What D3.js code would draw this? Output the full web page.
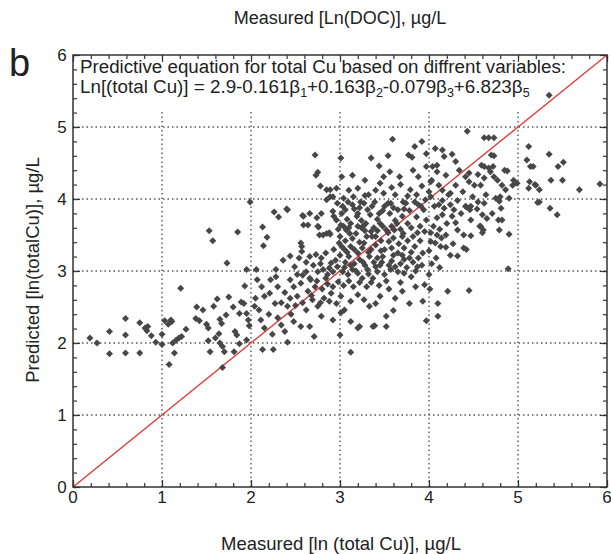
<!DOCTYPE html>
<html><head><meta charset="utf-8">
<script src="https://cdn.jsdelivr.net/npm/d3@7"></script>
<style>
html,body{margin:0;padding:0;background:#fff;}
text{font-family:"Liberation Sans",Arial,sans-serif;fill:#222;}
</style></head>
<body><svg id="c" width="611" height="554"></svg>
<script>
const majorTicks = [0,1,2,3,4,5,6];
const gridTicks = [1,2,3,4,5];
const topTitle = "Measured [Ln(DOC)], µg/L";
const xTitle = "Measured [ln (total Cu)], µg/L";
const yTitle = "Predicted [ln(totalCu)], µg/L";
const panelLabel = "b";
const noteLine1 = "Predictive equation for total Cu based on diffrent variables:";
const noteLine2 = [["Ln[(total Cu)] = 2.9-0.161β",""],["1","sub"],["+0.163β",""],["2","sub"],["-0.079β",""],["3","sub"],["+6.823β",""],["5","sub"]];
const identity = [[0,0],[6,6]];
// [measured, predicted]
const points = [
[0.19,2.07],[0.27,2.00],[0.41,2.16],[0.41,1.85],[0.59,2.34],[0.59,2.11],[0.59,1.86],[0.75,2.28],[0.75,1.86],[0.81,2.21],[0.83,2.17],[0.84,2.23],[0.88,2.10],[0.93,2.01],[1.00,2.12],[1.00,1.98],[1.03,2.31],[1.07,2.26],[1.10,2.32],[1.08,1.70],[1.12,2.00],[1.14,1.86],[1.16,2.04],[1.19,2.07],[1.22,2.09],[1.21,2.76],[1.27,2.19],[1.39,2.50],[1.46,2.46],[1.38,2.34],[1.42,2.31],[1.50,2.26],[1.52,2.21],[1.53,3.56],[1.57,3.42],[1.54,1.88],[1.52,2.03],[1.58,2.51],[1.62,2.61],[1.60,2.07],[1.64,2.13],[1.65,2.33],[1.67,2.27],[1.65,2.00],[1.68,1.95],[1.68,1.66],[1.70,1.88],[1.72,2.39],[1.73,3.11],[1.75,2.64],[1.80,2.50],[1.81,1.88],[1.82,2.16],[1.84,2.11],[1.85,3.54],[1.87,2.41],[1.87,1.99],[1.89,2.57],[1.92,2.55],[1.93,2.79],[1.95,3.02],[1.95,2.41],[1.97,2.32],[1.98,2.24],[1.95,2.04],[1.99,3.96],[1.11,2.30],
[2.72,4.61],[2.73,4.33],[2.75,4.37],[2.78,4.18],[2.26,3.82],[2.31,3.75],[2.41,3.85],[2.13,3.61],[2.18,3.47],[2.14,3.35],[2.59,3.76],[2.64,3.64],[2.59,3.64],[2.74,3.74],[2.76,3.61],[2.77,3.50],[2.36,3.15],[2.44,3.21],[2.57,3.34],[2.57,3.27],[2.89,4.13],[2.92,4.03],[2.96,4.15],[2.85,3.99],[2.81,3.50],[2.85,3.52],[2.89,3.51],
[2.40,3.86],[2.58,3.77],[2.79,3.80],[2.92,3.83],[2.75,3.62],[2.88,3.53],
[2.97,3.94],[3.03,3.90],[3.09,3.96],[3.14,3.92],[3.20,3.80],[3.27,3.94],[3.31,3.85],[3.39,3.96],[3.44,3.80],[3.50,3.90],[3.57,3.94],[3.65,3.85],[3.74,3.94],[3.84,3.96],[3.91,3.90],[3.97,3.71],
[2.96,3.71],[3.01,3.64],[3.07,3.57],[3.12,3.66],[3.18,3.52],[3.24,3.60],[3.29,3.66],[3.35,3.55],[3.40,3.48],[3.48,3.62],[3.54,3.53],[3.61,3.57],[3.70,3.48],[3.80,3.60],[3.87,3.53],[3.95,3.55],
[2.56,3.39],[2.66,3.20],[2.73,3.23],[2.79,3.18],[2.84,3.25],[2.90,3.11],
[2.99,3.39],[3.05,3.30],[3.12,3.34],[3.20,3.25],[3.27,3.39],[3.35,3.30],[3.42,3.18],[3.50,3.30],[3.55,3.41],[3.65,3.25],[3.72,3.16],[3.84,3.34],[3.93,3.25],
[2.06,3.02],[2.07,2.88],[2.22,2.88],[2.28,2.92],
[2.49,3.06],[2.52,2.95],[2.56,2.83],[2.62,2.99],[2.67,2.88],[2.75,2.99],[2.81,3.02],[2.86,2.95],[2.92,2.99],[2.97,3.06],[3.03,2.99],[3.09,2.95],[3.14,3.02],[3.20,2.97],[3.25,2.90],[3.31,3.02],[3.37,2.90],[3.42,2.99],[3.50,2.95],[3.57,3.02],[3.65,2.99],[3.72,2.97],[3.80,2.92],[3.87,3.06],[3.95,2.81],
[2.15,2.65],[2.21,2.69],[2.04,2.51],[2.09,2.46],[2.34,2.56],[2.41,2.51],
[2.52,2.65],[2.58,2.56],[2.62,2.46],[2.69,2.60],[2.75,2.51],[2.82,2.62],[2.90,2.69],[2.96,2.55],[3.01,2.65],[3.05,2.46],[3.12,2.58],[3.20,2.67],[3.27,2.60],[3.33,2.51],[3.40,2.55],[3.93,2.58],
[2.11,2.32],[2.15,2.21],[2.34,2.25],[2.56,2.23],[2.66,2.23],[2.79,2.37],[2.92,2.32],[3.01,2.42],[3.12,2.30],[3.20,2.21],[3.39,2.24],[3.52,2.37],[3.52,2.23],[3.97,2.31],[3.37,2.23],[3.22,2.23],
[2.71,2.09],[3.00,2.11],[2.13,1.91],[2.25,1.91],[2.41,2.01],[3.12,1.87],
[5.22,3.95],[5.36,3.87],[5.44,3.78],
[4.06,3.90],[4.11,3.92],[4.17,3.87],[4.24,3.92],[4.28,3.85],[4.41,3.90],[4.47,3.90],[4.62,3.94],[4.79,3.97],[4.81,3.87],
[4.09,3.74],[4.15,3.78],[4.26,3.76],[4.30,3.67],[4.47,3.71],[4.60,3.78],[4.71,3.80],[4.82,3.71],
[4.02,3.53],[4.09,3.50],[4.19,3.50],[4.32,3.57],[4.39,3.50],[4.47,3.49],[4.58,3.62],[4.60,3.53],[4.79,3.57],[4.90,3.51],
[4.02,3.41],[4.07,3.39],[4.13,3.34],[4.19,3.33],[4.27,3.38],[4.39,3.32],[4.42,3.30],[4.32,3.21],
[4.89,3.03],[4.01,2.75],[4.21,2.72],[4.45,2.73],[4.10,2.55],[4.10,2.37],
[5.35,5.44],[4.43,4.94],[4.62,4.85],[4.67,4.85],[4.73,4.85],[4.07,4.70],[4.15,4.68],[4.17,4.59],[4.26,4.62],[4.73,4.60],[5.12,4.73],[5.35,4.62],
[4.04,4.45],[4.09,4.38],[4.19,4.33],[4.34,4.40],[4.45,4.36],[4.62,4.45],[4.67,4.43],[4.69,4.38],[4.88,4.39],[5.10,4.54],[5.14,4.45],[5.45,4.45],[5.51,4.51],
[4.02,4.24],[4.11,4.19],[4.24,4.08],[4.30,4.19],[4.41,4.31],[4.45,4.24],[4.51,4.19],[4.58,4.19],[4.62,4.29],[4.73,4.31],[4.77,4.26],[4.82,4.19],[4.86,4.13],[4.94,4.19],
[5.12,4.15],[5.20,4.19],[5.24,4.13],[5.37,4.26],[5.50,4.26],[5.69,4.13],[5.92,4.21],
[4.02,4.03],[4.22,4.06],[4.49,4.03],[4.64,4.06],[4.75,4.01],[4.90,4.01],[5.24,3.96],
[3.59,4.83],[3.92,4.80],[3.84,4.73],[3.01,4.57],[3.35,4.57],[3.54,4.60],[3.77,4.61],[3.81,4.58],[3.97,4.63],
[2.85,4.13],[3.02,4.31],[3.14,4.33],[3.28,4.26],[3.44,4.46],[3.49,4.31],[3.56,4.38],[3.67,4.31],[3.82,4.40],[3.88,4.31],[3.97,4.45],[4.03,4.26],[4.09,4.47],
[2.89,4.03],[3.04,4.01],[3.15,4.03],[3.23,3.96],[3.32,4.06],[3.49,4.08],[3.54,3.94],[3.62,4.06],[3.71,3.96],[3.79,4.13],[3.86,4.06],[3.96,3.99],
[2.66,3.80],[2.93,3.76],[3.04,3.62],[3.11,3.52],[3.19,3.76],[3.26,3.62],[3.36,3.48],[3.45,3.66],[3.52,3.57],[3.64,3.66],[3.71,3.52],
[5.17,4.45],[5.13,4.24],[5.19,4.20],
[4.42,3.89],[4.46,3.85],[4.57,3.62],[4.61,3.57],[4.65,3.73],[4.78,3.71],[4.80,4.03],[4.95,4.26],[4.99,4.22],[4.85,4.40],[4.72,4.45],[4.59,4.47],[4.70,4.61],
[3.62,2.62],[3.70,2.72],[3.78,2.55],[3.85,2.78],[3.60,2.45],[3.45,2.65],[3.55,2.75],[3.68,2.84],
[2.95,3.15],[3.00,3.22],[3.06,3.12],[3.10,3.20],[3.16,3.10],[3.22,3.16],[3.28,3.08],[3.33,3.20],[3.38,3.12],[3.45,3.08],[3.48,3.20],[3.58,3.14],[3.62,3.06],[3.68,3.10],[3.75,3.05],[3.82,3.12],[3.88,3.18],[3.92,3.08],
[2.98,2.85],[3.04,2.80],[3.10,2.86],[3.15,2.78],[3.22,2.84],[3.30,2.78],[3.35,2.84],[3.44,2.80],[3.52,2.86],[2.92,2.78],[2.86,2.82],[2.80,2.75],[2.72,2.78],[2.64,2.72],[2.58,2.94],[2.70,3.08],[2.62,3.12],[2.54,3.18],[2.48,2.78],[2.44,2.88],[2.38,2.70],[2.30,2.78],
[3.00,3.48],[3.06,3.42],[3.14,3.45],[3.22,3.40],[3.30,3.48],[3.46,3.42],[3.60,3.46],[3.66,3.38],[3.76,3.42],[3.82,3.48],[3.90,3.42],
[3.02,3.80],[3.08,3.72],[3.16,3.86],[3.24,3.70],[3.34,3.78],[3.42,3.72],[3.56,3.80],[3.62,3.70],[3.70,3.76],[3.78,3.84],[3.86,3.75],[3.94,3.85],
[3.10,4.12],[3.20,4.15],[3.28,4.05],[3.40,4.12],[3.58,4.16],[3.68,4.20],[3.76,4.04],[3.92,4.18],[4.00,4.10],[3.45,4.22],
[4.05,3.62],[4.12,3.58],[4.20,3.66],[4.36,3.80],[4.54,3.86],[4.14,3.46],[4.24,3.22],[4.08,3.18],[4.00,3.28],[4.03,3.10],[4.12,3.05],[4.00,2.95],
[2.20,2.40],[2.27,2.55],[2.30,2.35],[2.45,2.40],[2.38,2.16],[2.48,2.30],[2.24,2.12],[2.05,2.62],[2.12,2.78],[2.28,3.02],
[3.05,3.05],[3.12,3.08],[3.18,3.00],[3.26,3.12],[3.32,2.96],[3.40,3.06],[3.47,3.12],[3.55,3.08],[3.60,3.22],[3.70,3.22],[3.78,3.18],[3.85,3.00],
[2.93,3.30],[3.02,3.34],[3.08,3.26],[3.16,3.30],[3.25,3.32],[3.32,3.26],[3.40,3.36],[3.46,3.28],[3.58,3.32],[3.72,3.32],[3.80,3.26],
[2.98,3.58],[3.10,3.60],[3.20,3.62],[3.28,3.56],[3.38,3.60],[3.42,3.56],[3.58,3.62],[3.68,3.58],[3.76,3.66],[3.90,3.62],
[3.06,3.85],[3.22,3.88],[3.36,3.90],[3.48,3.84],[3.60,3.88],[3.72,3.86],[3.88,3.92],
[2.66,2.90],[2.74,2.86],[2.84,2.90],[2.78,3.10],[2.88,3.04],[2.68,2.66],[2.78,2.56],[2.88,2.58],[2.50,2.52],[2.44,2.62],
[4.15,3.98],[4.32,3.98],[4.55,3.96],[4.38,4.10],[4.15,4.12],[4.55,4.34],[4.30,4.52]
];

const svg = d3.select("#c");
const L = 73, R = 607, T = 55, B = 487;
const x = d3.scaleLinear().domain([0,6]).range([L,R]);
const y = d3.scaleLinear().domain([0,6]).range([B,T]);
const minor = d3.range(0, 6.0001, 0.2).map(v => +v.toFixed(1));
const axisColor = "#333";

// grid
const g = svg.append("g");
g.selectAll(".gx").data(gridTicks).join("line")
  .attr("x1", d => x(d)).attr("x2", d => x(d)).attr("y1", B).attr("y2", T)
  .attr("stroke", "#555").attr("stroke-width", 1.4).attr("stroke-dasharray", "1.5,3");
g.selectAll(".gy").data(gridTicks).join("line")
  .attr("y1", d => y(d)).attr("y2", d => y(d)).attr("x1", L).attr("x2", R)
  .attr("stroke", "#555").attr("stroke-width", 1.4).attr("stroke-dasharray", "1.5,3");

// annotation box (hides grid)
svg.append("rect").attr("x", 78).attr("y", 58).attr("width", 494).attr("height", 51).attr("fill", "#fff");

function styleAxis(sel){
  sel.select(".domain").remove();
  sel.selectAll("line").attr("stroke", axisColor).attr("stroke-width", 1.2);
  sel.selectAll("text").remove();
}
const axes = [
  [d3.axisBottom(x), `translate(0,${B})`],
  [d3.axisTop(x), `translate(0,${T})`],
  [d3.axisLeft(y), `translate(${L},0)`],
  [d3.axisRight(y), `translate(${R},0)`]
];
axes.forEach(([ax, tr]) => {
  svg.append("g").attr("transform", tr).call(ax.tickValues(minor).tickSize(-4).tickFormat("")).call(styleAxis);
  svg.append("g").attr("transform", tr).call(ax.tickValues(majorTicks).tickSize(-7).tickFormat("")).call(styleAxis);
});

// tick labels
svg.append("g").selectAll("text").data(majorTicks).join("text")
  .attr("x", d => x(d)).attr("y", B + 16).attr("text-anchor", "middle")
  .attr("font-size", 17).text(d => d);
svg.append("g").selectAll("text").data(majorTicks).join("text")
  .attr("x", L - 11).attr("y", d => y(d) + 6).attr("text-anchor", "middle")
  .attr("font-size", 17).text(d => d);

// identity line
svg.append("path").datum(identity)
  .attr("d", d3.line().x(d => x(d[0])).y(d => y(d[1])))
  .attr("stroke", "#e23a3a").attr("stroke-width", 1.4).attr("fill", "none");

// points
svg.append("g").selectAll("path").data(points).join("path")
  .attr("transform", d => `translate(${x(d[0])},${y(d[1])})`)
  .attr("d", "M0,-3.5L3.5,0L0,3.5L-3.5,0Z")
  .attr("fill", "#474747");

// frame
svg.append("rect").attr("x", L).attr("y", T).attr("width", R - L).attr("height", B - T)
  .attr("fill", "none").attr("stroke", axisColor).attr("stroke-width", 1.5);

// annotation text
svg.append("text").attr("x", 80).attr("y", 73).attr("font-size", 18)
  .attr("textLength", 486).attr("lengthAdjust", "spacingAndGlyphs").text(noteLine1);
const t2 = svg.append("text").attr("x", 80).attr("y", 97).attr("font-size", 18.8);
noteLine2.forEach(([s, kind]) => {
  if (kind === "sub") t2.append("tspan").attr("font-size", 12.5).attr("dy", 4).text(s);
  else t2.append("tspan").attr("dy", t2.selectAll("tspan").size() ? -4 : 0).text(s);
});

// titles
svg.append("text").attr("x", 340).attr("y", 24).attr("text-anchor", "middle").attr("font-size", 18).text(topTitle);
svg.append("text").attr("x", 341).attr("y", 550).attr("text-anchor", "middle").attr("font-size", 18.5).text(xTitle);
svg.append("text").attr("transform", "translate(39,270) rotate(-90)").attr("text-anchor", "middle").attr("font-size", 18.5).text(yTitle);
svg.append("text").attr("x", 9).attr("y", 76).attr("font-size", 38).text(panelLabel);
</script></body></html>
